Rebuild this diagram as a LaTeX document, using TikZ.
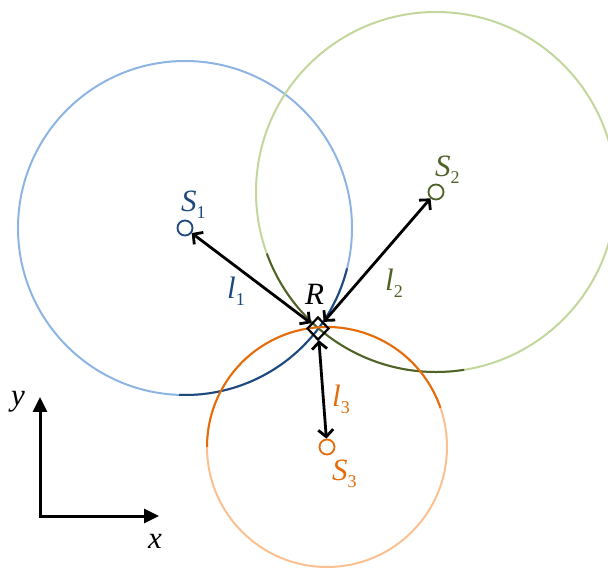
\documentclass[tikz,border=0pt]{standalone}
\usepackage{fontspec}
\setmainfont{Liberation Serif}
\usetikzlibrary{shapes.geometric,arrows.meta}
\definecolor{bluelight}{HTML}{8DB4E2}
\definecolor{bluedark}{HTML}{1F497D}
\definecolor{greenlight}{HTML}{C3D69B}
\definecolor{greendark}{HTML}{4F6228}
\definecolor{orangelight}{HTML}{FAC090}
\definecolor{orangedark}{HTML}{E46C0A}
\newcommand{\symsub}[2]{\textit{#1}\raisebox{-7pt}{\fontsize{18}{18}\selectfont #2}}
\begin{document}
\begin{tikzpicture}[x=1pt,y=1pt,
  ring/.style={line width=2pt},
  marker/.style={circle,draw,line width=1.8pt,minimum size=15pt,inner sep=0pt},
  lab/.style={font=\fontsize{31}{31}\selectfont,inner sep=0pt,anchor=base west},
  link/.style={line width=2.8pt,{Straight Barb[length=7pt,width=15pt]}-{Straight Barb[length=7pt,width=15pt]}},
  axis/.style={line width=3pt,{Triangle[length=15pt,width=14pt]}-{Triangle[length=15pt,width=14pt]}}]
\useasboundingbox (0,0) rectangle (608,568);
% circles (light)
\coordinate (C1) at (185,340);
\coordinate (C2) at (436,376);
\coordinate (C3) at (327,121);
\draw[ring,bluelight] (C1) circle[radius=167];
\draw[ring,greenlight] (C2) circle[radius=180];
\draw[ring,orangelight] (C3) circle[radius=120];
% dark arcs
\draw[ring,bluedark] ([shift={(-92:167)}]C1) arc[start angle=-92,end angle=-14,radius=167];
\draw[ring,greendark] ([shift={(200:180)}]C2) arc[start angle=200,end angle=279,radius=180];
\draw[ring,orangedark] ([shift={(19:120)}]C3) arc[start angle=19,end angle=180,radius=120];
% markers
\node[marker,bluedark] (S1) at (185,340) {};
\node[marker,greendark] (S2) at (436,376) {};
\node[marker,orangedark] (S3) at (327,121) {};
\node[diamond,draw,line width=2.2pt,minimum width=22pt,minimum height=23pt,inner sep=0pt] (R) at (318,239.5) {};
% links
\draw[link] (R) -- (S1);
\draw[link] (R) -- (S2);
\draw[link] (R) -- (S3);
% labels
\node[lab,bluedark] (tS1) at (181,356) {\symsub{S}{1}};
\node[lab,greendark] (tS2) at (435,391) {\symsub{S}{2}};
\node[lab,orangedark] (tS3) at (332,88) {\symsub{S}{3}};
\node[lab,bluedark] (tl1) at (227,269) {\symsub{l}{1}};
\node[lab,greendark] (tl2) at (385,277) {\symsub{l}{2}};
\node[lab,orangedark] (tl3) at (332,161) {\symsub{l}{3}};
\node[lab] (tR) at (305,263) {\textit{R}};
% axes
\coordinate (O) at (40,52);
\coordinate (Y) at (40,171);
\coordinate (X) at (159,52);
\draw[axis] (Y) -- (O) -- (X);
\node[lab,anchor=center] (ty) at (18,166) {\textit{y}};
\node[lab,anchor=center] (tx) at (155,27) {\textit{x}};
\end{tikzpicture}
\end{document}
